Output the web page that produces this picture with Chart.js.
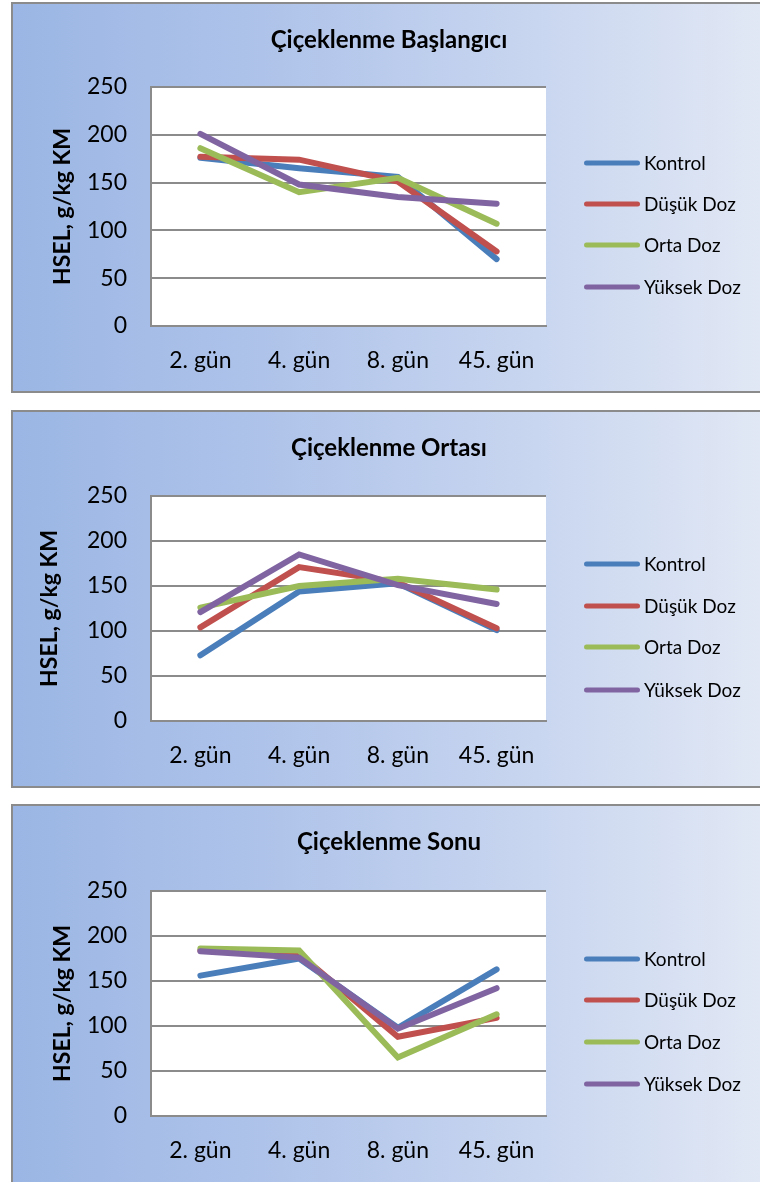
<!DOCTYPE html>
<html><head><meta charset="utf-8">
<script src="https://cdn.jsdelivr.net/npm/chart.js@4"></script>
<style>
html,body{margin:0;padding:0;width:760px;height:1182px;overflow:hidden;background:#fff;}
.panel{position:absolute;left:11px;width:770px;box-sizing:border-box;border:2px solid #8b8b8b;
background:linear-gradient(to right,#9bb6e4 0%,#b0c4ea 35%,#c6d4ef 65%,#e3e9f5 100%);}
canvas{position:absolute;left:11px;}
</style></head><body>
<div class="panel" style="top:2px;height:391px"></div>
<div class="panel" style="top:410px;height:378px"></div>
<div class="panel" style="top:804px;height:392px"></div>
<canvas id="c0" width="756" height="391" style="top:2px"></canvas>
<canvas id="c1" width="756" height="378" style="top:410px"></canvas>
<canvas id="c2" width="756" height="378" style="top:804px"></canvas>
<script>
// ---- data ----
const categories = ['2. gün', '4. gün', '8. gün', '45. gün'];
const seriesLabels = ['Kontrol', 'Düşük Doz', 'Orta Doz', 'Yüksek Doz'];
const chartTitles = ['Çiçeklenme Başlangıcı', 'Çiçeklenme Ortası', 'Çiçeklenme Sonu'];
const yAxisTitle = 'HSEL, g/kg KM';
const yMin = 0, yMax = 250, yStep = 50;

const baslangicKontrol = [176, 165, 156, 70];
const baslangicDusuk   = [177, 174, 151, 78];
const baslangicOrta    = [186, 140, 155, 107];
const baslangicYuksek  = [201, 148, 135, 128];

const ortasiKontrol = [73, 144, 153, 101];
const ortasiDusuk   = [104, 171, 154, 103];
const ortasiOrta    = [126, 150, 158, 146];
const ortasiYuksek  = [121, 185, 151, 130];

const sonuKontrol = [156, 175, 98, 163];
const sonuDusuk   = [184, 180, 88, 109];
const sonuOrta    = [186, 184, 65, 113];
const sonuYuksek  = [183, 176, 97, 142];

const panelSeries = [
  [baslangicKontrol, baslangicDusuk, baslangicOrta, baslangicYuksek],
  [ortasiKontrol, ortasiDusuk, ortasiOrta, ortasiYuksek],
  [sonuKontrol, sonuDusuk, sonuOrta, sonuYuksek]
];

// ---- styles / layout ----
const colors = ['#4a7ebb', '#c0504d', '#9bbb59', '#8064a2'];
const FONT = 'Lato';
const GRID = '#8b8b8b';
const W = 756;
const TITLE_SIZE = 24, TITLE_CY = 38;
const PLOT_LEFT = 140, PLOT_RIGHT = 535;
const LEG_X0 = 573, LEG_X1 = 629, LEG_TEXT_X = 633, LEG_FONT = 19, LEG_LINE = 5;
const layouts = [
  {h: 391, plotTop: 85, plotBottom: 324, yTitleX: 52, legY: [161, 202, 243, 285]},
  {h: 378, plotTop: 86, plotBottom: 311, yTitleX: 39, legY: [154, 196, 237, 280]},
  {h: 378, plotTop: 87, plotBottom: 312, yTitleX: 52, legY: [155, 196, 238, 280]}
];

const bgPlugin = {
  id: 'plotBg',
  beforeDraw(chart) {
    const a = chart.chartArea, c = chart.ctx;
    c.save(); c.fillStyle = '#ffffff';
    c.fillRect(a.left, a.top, a.right - a.left, a.bottom - a.top);
    c.restore();
  }
};

const legendPlugin = {
  id: 'sideLegend',
  afterDraw(chart, args, opts) {
    const c = chart.ctx;
    c.save();
    chart.data.datasets.forEach((ds, i) => {
      const y = opts.ys[i];
      c.strokeStyle = ds.borderColor;
      c.lineWidth = LEG_LINE;
      c.lineCap = 'round';
      c.beginPath(); c.moveTo(LEG_X0 + 2.5, y); c.lineTo(LEG_X1 - 2.5, y); c.stroke();
      c.fillStyle = '#000';
      c.font = LEG_FONT + 'px ' + FONT;
      c.textBaseline = 'middle'; c.textAlign = 'left';
      c.fillText(ds.label, LEG_TEXT_X, y + 1);
    });
    c.restore();
  }
};

layouts.forEach((P, k) => {
  const tLH = TITLE_SIZE * 1.2;
  new Chart(document.getElementById('c' + k), {
    type: 'line',
    data: {
      labels: categories,
      datasets: panelSeries[k].map((vals, i) => ({
        label: seriesLabels[i], data: vals,
        borderColor: colors[i], backgroundColor: colors[i],
        borderWidth: 6, pointRadius: 0, pointHoverRadius: 0, tension: 0,
        borderCapStyle: 'round', borderJoinStyle: 'miter', fill: false,
        order: 4 - i
      }))
    },
    options: {
      responsive: false, animation: false, events: [],
      layout: {padding: 0},
      plugins: {
        title: {
          display: true, text: chartTitles[k], color: '#000',
          font: {family: FONT, size: TITLE_SIZE, weight: 'bold', lineHeight: 1.2},
          padding: {top: TITLE_CY - tLH / 2, bottom: P.plotTop - TITLE_CY - tLH / 2}
        },
        legend: {display: false},
        sideLegend: {ys: P.legY},
        tooltip: {enabled: false}
      },
      scales: {
        x: {
          type: 'category', offset: true,
          grid: {display: false, drawTicks: false},
          border: {display: true, color: GRID, width: 2},
          ticks: {color: '#000', font: {family: FONT, size: 23}, padding: 21, maxRotation: 0, autoSkip: false},
          afterFit: s => { s.height = P.h - P.plotBottom; }
        },
        y: {
          min: yMin, max: yMax,
          ticks: {stepSize: yStep, color: '#000', font: {family: FONT, size: 23}, padding: 24},
          grid: {color: GRID, lineWidth: 2, drawTicks: false},
          border: {display: true, color: GRID, width: 2},
          title: {
            display: true, text: yAxisTitle, color: '#000',
            font: {family: FONT, size: 23, weight: 'bold', lineHeight: 1.2},
            padding: {top: P.yTitleX - 13.8, bottom: 0}
          },
          afterFit: s => { s.width = PLOT_LEFT; }
        },
        y2: {
          position: 'right', display: true,
          grid: {display: false, drawTicks: false}, border: {display: false},
          ticks: {display: false},
          afterFit: s => { s.width = W - PLOT_RIGHT; }
        }
      }
    },
    plugins: [bgPlugin, legendPlugin]
  });
});
</script>
</body></html>
